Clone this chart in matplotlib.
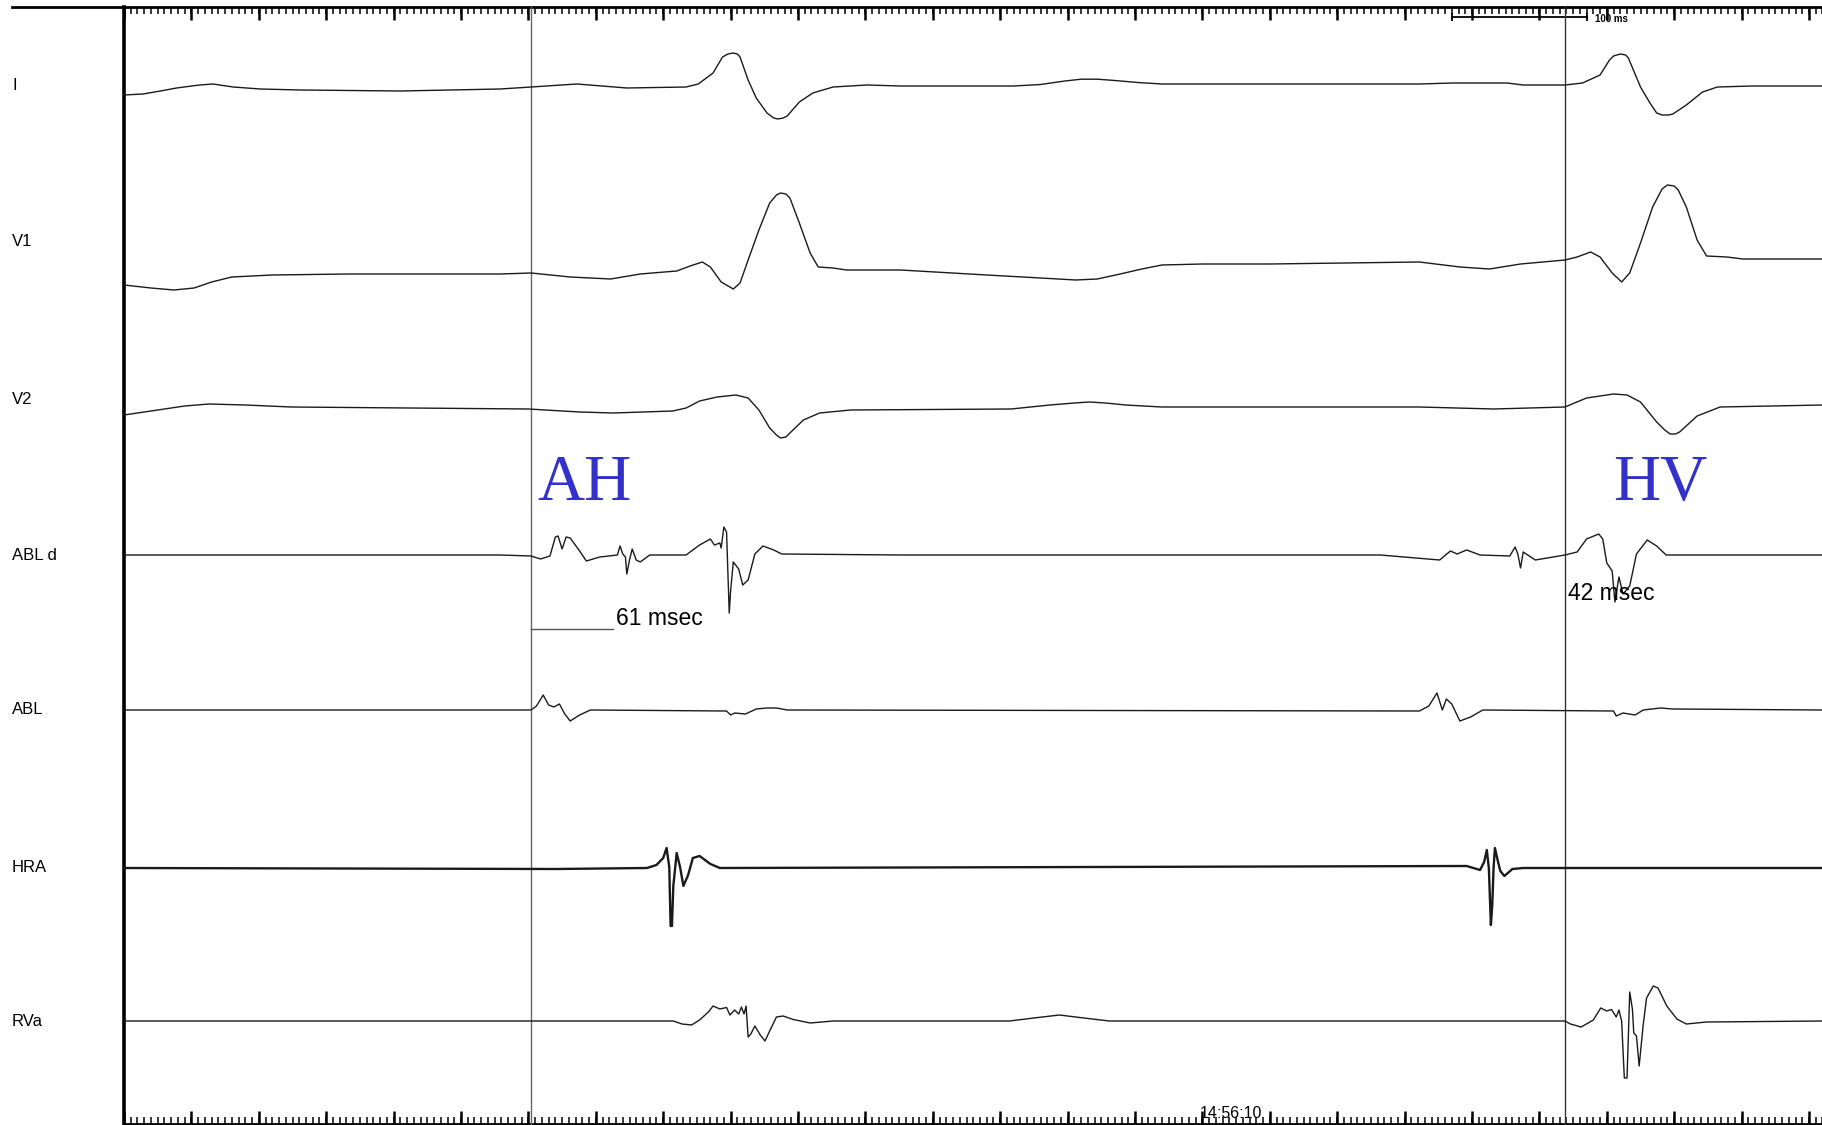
import numpy as np
import matplotlib.pyplot as plt

plt.rcParams['font.family'] = ['Liberation Sans', 'DejaVu Sans']

# --- data (time in ms, amplitude in screen units, up = +) ---
channels = ['I', 'V1', 'V2', 'ABL d', 'ABL', 'HRA', 'RVa']

I_t = [0, 14, 27, 39, 56, 66, 81, 101, 131, 205, 279, 302, 336, 373, 417, 426, 437, 444, 448, 452, 455,
       457, 463, 469, 477, 482, 485, 489, 492, 501, 511, 526, 551, 576, 660, 680, 698, 710, 722, 735, 752, 770,
       961, 986, 1026, 1038, 1069, 1082, 1095, 1102, 1105, 1110, 1114, 1116, 1125, 1132, 1137, 1141,
       1146, 1149, 1159, 1171, 1182, 1208, 1260]
I_a = [-9, -8, -5, -2, 1, 2, -1, -3, -4, -5, -3, -1, 2, -2, -1, 2, 13, 29, 32, 33, 32,
       29, 6, -12, -27, -32, -33, -32, -30, -16, -7, -1, 1, 0, 0, 1.5, 5, 6.8, 6.8, 5.5, 3.5, 2,
       2, 3, 3, 1, 1, 3, 11, 26, 30, 32, 31, 28, -1, -17, -27, -29,
       -29, -28, -19, -6, -1, 0, 0]

V1_t = [0, 20, 37, 52, 65, 80, 110, 167, 279, 302, 331, 361, 383, 410, 420, 429, 435, 443, 452, 457, 463, 471, 479, 484,
        487, 491, 494, 501, 509, 515, 526, 536, 576, 640, 680, 706, 722, 739, 755, 770, 800, 850, 961, 991, 1013, 1036,
        1069, 1078, 1088, 1095, 1104, 1111, 1117, 1125, 1134, 1141, 1145, 1150, 1153, 1159, 1167, 1174, 1189, 1201, 1260]
V1_a = [-43, -46, -48, -46, -40, -35, -33, -32, -32, -31, -35, -37, -32, -29, -24, -20, -25, -40, -47, -41, -18, 12, 39, 47,
        49, 48, 44, 19, -11, -25, -26, -28, -28, -33, -36, -38, -37, -32, -27, -23, -22, -22, -20, -25, -27, -22,
        -18, -15, -10, -15, -31, -40, -31, -1, 35, 53, 57, 56, 52, 35, 2, -14, -15, -17, -17]

V2_t = [0, 15, 30, 45, 63, 90, 124, 300, 338, 363, 407, 417, 427, 440, 454, 463, 471, 479, 484, 487, 491, 494, 504,
        516, 539, 658, 687, 705, 716, 728, 743, 770, 961, 1016, 1069, 1085, 1105, 1115, 1125, 1137, 1143, 1147, 1151,
        1154, 1167, 1184, 1260]
V2_a = [-16, -13, -10, -7, -5, -6, -8, -10, -13, -14, -12, -9, -2, 2, 4, 1, -11, -29, -36, -39, -38, -34, -21,
        -14, -11, -10, -6, -4, -3, -4, -6, -8, -8, -10, -8, 1, 5, 4, -3, -23, -31, -35, -35,
        -33, -17, -8, -6]

ABLd_t = [0, 279, 302, 309, 316, 320, 322, 325, 328, 331, 338, 343, 353, 366, 368, 370, 372, 373, 375, 377,
          380, 383, 390, 417, 427, 435, 438, 442, 443, 445, 447, 448, 449, 450, 452, 456, 459, 463, 468, 474,
          482, 488, 576, 932, 976, 984, 989, 996, 1006, 1028, 1032, 1034, 1036, 1038, 1047, 1069, 1078, 1085, 1094, 1097,
          1100, 1104, 1106, 1109, 1112, 1117, 1122, 1130, 1137, 1144, 1260]
ABLd_a = [0, 0, -1, -4, -1, 18, 19, 6, 18, 17, 4, -6, -2, 0, 9, 1, -2, -19, -5, 6,
          -5, -7, 0, 0, 10, 16, 10, 12, 7, 28, 23, -18, -58, -36, -7, -14, -30, -25, 1, 9,
          5, 1, 0, 0, -5, 4, 1, 5, 0, -1, 8, 1, -13, 3, -5, 0, 3, 16, 21, 16,
          -8, -16, -47, -22, -39, -31, 1, 15, 9, 0, 0]

ABL_t = [0, 302, 306, 311, 315, 319, 323, 327, 331, 338, 346, 447, 450, 453, 461, 469, 477, 484, 492, 961,
         968, 974, 978, 981, 985, 991, 999, 1008, 1105, 1107, 1112, 1121, 1127, 1140, 1149, 1260]
ABL_a = [0, 0, 4, 15, 5, 3, 6, -4, -11, -5, 0, -1, -5, -3, -4, 1, 2, 2, 0, -1,
         4, 17, 0, 11, 6, -11, -7, 0, -1, -6, -3, -5, 0, 2, 1, 0]

HRA_t = [0, 321, 388, 395, 400, 402.5, 404.5, 405.5, 406.5, 407.5, 410, 412.5, 415, 418.5, 422, 427, 435, 442,
         996, 1006, 1009, 1011, 1012.5, 1014, 1015, 1016, 1017, 1019, 1021, 1024, 1030, 1038, 1260]
HRA_a = [0, -1, 0, 3, 10, 20, 1, -58, -58, -18, 15, 1, -18, -7, 10, 12, 4, 0,
         2, -2, 6, 18, 0, -57, -38, 0, 20, 8, -3, -8, -1, 0, 0]

RVa_t = [0, 344, 407.5, 414, 421, 427, 433.5, 437, 442, 447, 449.5, 453, 456, 458, 460, 461.5, 463, 465, 468, 472,
         475.5, 479, 484, 489, 496.5, 509, 526, 657, 675, 694, 712, 731, 1069, 1073, 1081, 1090, 1095.5, 1100, 1103.5,
         1107, 1109, 1111, 1113, 1115, 1116, 1117, 1119, 1120, 1122, 1124, 1127, 1129.5, 1134.5, 1138, 1144.5, 1152,
         1159, 1174, 1260]
RVa_a = [0, 0, 0, -3, -4, 1, 9, 15, 12, 13.5, 6, 11, 7, 14, 7, 15, -16, -13, -5, -14,
         -20, -10, 4, 5, 1.5, -2, 0, 0, 3, 6, 3, 0, 0, -3, -6, 1, 13, 10, 11.5,
         4, 11, 0, -57, -57, -15, 29, 12, -12, -15, -45, -4, 23, 35, 33, 15, 2,
         -3, -1, 0]

traces = [(I_t, I_a), (V1_t, V1_a), (V2_t, V2_a), (ABLd_t, ABLd_a),
          (ABL_t, ABL_a), (HRA_t, HRA_a), (RVa_t, RVa_a)]

cursor_a = 302      # ms, A cursor
cursor_v = 1069     # ms, V cursor
ah_ms = 61
hv_ms = 42
sweep_ms = 1260
timestamp = '14:56:10'

# --- layout ---
W, H = 1822, 1125
px_per_ms = 1.348
left_px = 124
rows = [86, 242, 399, 555, 710, 868, 1021]
line_w = [1.0, 1.0, 1.0, 1.0, 1.0, 1.7, 1.0]

fig = plt.figure(figsize=(W / 100, H / 100), dpi=100)
ax = fig.add_axes([0, 0, 1, 1])
t_left = -left_px / px_per_ms
ax.set_xlim(t_left, t_left + W / px_per_ms)
ax.set_ylim(H, 0)
ax.axis('off')

# frame and time rulers
top_y, bot_y = 7, 1124
ax.plot([(12 - left_px) / px_per_ms, sweep_ms], [top_y, top_y], color='k', lw=2)
ax.plot([0, sweep_ms], [bot_y, bot_y], color='k', lw=2)
ax.plot([0, 0], [top_y, H], color='k', lw=2.6)
minor = np.arange(0, sweep_ms + 1, 5)
major = minor[minor % 50 == 0]
ax.vlines(minor, top_y, top_y + 7, color='k', lw=1.1)
ax.vlines(major, top_y, top_y + 13, color='k', lw=1.8)
ax.vlines(minor, bot_y - 7, bot_y, color='k', lw=1.1)
ax.vlines(major, bot_y - 13, bot_y, color='k', lw=1.8)

# 100 ms calibration bar
sb0 = 985
ax.plot([sb0, sb0 + 100], [17, 17], color='k', lw=1.3)
ax.vlines([sb0, sb0 + 100], 13, 21, color='k', lw=1.3)
ax.text(sb0 + 106, 19, '100 ms', fontsize=7, fontweight='bold', va='center', ha='left')

# cursors
ax.plot([cursor_a, cursor_a], [top_y, H], color='#666666', lw=1.0)
ax.plot([cursor_v, cursor_v], [top_y, H], color='#333333', lw=1.0)

# traces
for (t, a), row, lw, name in zip(traces, rows, line_w, channels):
    y = row - np.array(a, dtype=float)
    ax.plot(t, y, color='#1a1a1a', lw=lw, solid_joinstyle='round')
    ax.text((12 - left_px) / px_per_ms, row, name, fontsize=12, va='center', ha='left')

# interval annotations
ax.plot([cursor_a, cursor_a + ah_ms], [629, 629], color='#555555', lw=1.0)
ax.text(cursor_a + ah_ms + 2, 625, f'{ah_ms} msec', fontsize=16.5, va='baseline', ha='left')
ax.text(cursor_v + 2, 600, f'{hv_ms} msec', fontsize=16.5, va='baseline', ha='left')
ax.text(307, 500, 'AH', fontsize=47, color='#3232c8', family='Liberation Serif', va='baseline')
ax.text(1105, 500, 'HV', fontsize=47, color='#3232c8', family='Liberation Serif', va='baseline')

ax.text(821, 1113, timestamp, fontsize=11.5, ha='center', va='center')

fig.savefig('out.png', dpi=100)
